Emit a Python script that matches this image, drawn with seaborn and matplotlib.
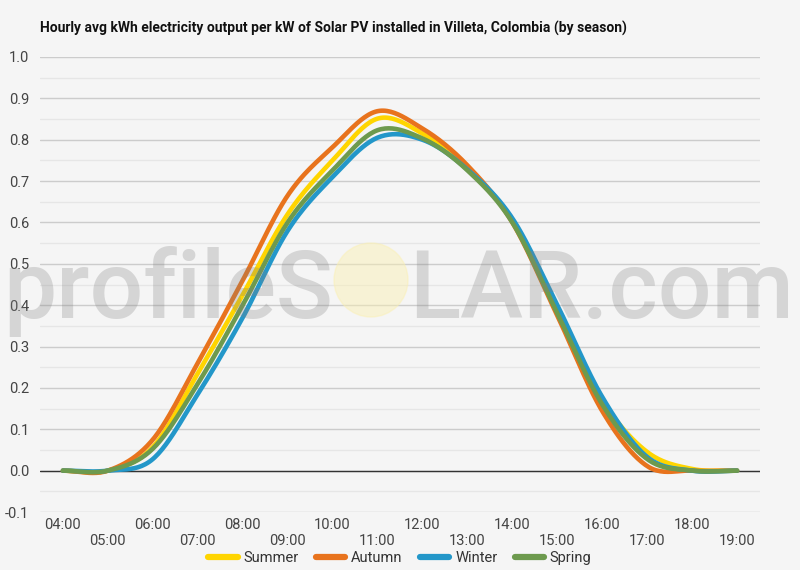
import numpy as np
import pandas as pd
import matplotlib
matplotlib.use('Agg')
import matplotlib.pyplot as plt
from matplotlib.patches import Ellipse
import seaborn as sns

hours = [4, 5, 6, 7, 8, 9, 10, 11, 12, 13, 14, 15, 16, 17, 18, 19]
summer = [0, 0, 0.057, 0.235, 0.425, 0.62, 0.75, 0.851, 0.815, 0.73, 0.605, 0.385, 0.17, 0.045, 0.004, 0]
autumn = [0, 0, 0.075, 0.26, 0.46, 0.665, 0.782, 0.869, 0.827, 0.738, 0.60, 0.375, 0.144, 0.011, 0, 0]
winter = [0, 0, 0.028, 0.185, 0.37, 0.58, 0.71, 0.805, 0.80, 0.728, 0.61, 0.40, 0.178, 0.033, 0, 0]
spring = [0, 0, 0.053, 0.21, 0.40, 0.60, 0.726, 0.823, 0.803, 0.726, 0.60, 0.38, 0.16, 0.028, 0, 0]
seasons = ['Summer', 'Autumn', 'Winter', 'Spring']
colors = ['#FFD500', '#E8731D', '#2397C9', '#6D9A4E']


def smooth(x, y, n=24):
    # catmull-rom style curve through the hourly points (like the original's curved lines)
    x = np.asarray(x, float)
    y = np.asarray(y, float)
    m = np.zeros_like(y)
    m[1:-1] = (y[2:] - y[:-2]) / 2
    m[0] = y[1] - y[0]
    m[-1] = y[-1] - y[-2]
    xs, ys = [], []
    for i in range(len(x) - 1):
        t = np.linspace(0, 1, n, endpoint=False)
        h00 = 2 * t**3 - 3 * t**2 + 1
        h10 = t**3 - 2 * t**2 + t
        h01 = -2 * t**3 + 3 * t**2
        h11 = t**3 - t**2
        xs.append(x[i] + t * (x[i + 1] - x[i]))
        ys.append(h00 * y[i] + h10 * m[i] + h01 * y[i + 1] + h11 * m[i + 1])
    xs.append([x[-1]])
    ys.append([y[-1]])
    return np.concatenate(xs), np.concatenate(ys)


frames = []
for name, vals in zip(seasons, [summer, autumn, winter, spring]):
    sx, sy = smooth(hours, vals)
    frames.append(pd.DataFrame({'hour': sx, 'kwh': sy, 'season': name}))
df = pd.concat(frames, ignore_index=True)

sns.set_style('white')
plt.rcParams['font.family'] = ['Roboto', 'DejaVu Sans']

fig = plt.figure(figsize=(8, 5.7), dpi=100, facecolor='#f5f5f5')
ax = fig.add_axes([0.05, 1 - 512 / 570, 0.9, (512 - 57) / 570])
ax.set_facecolor('#f5f5f5')

sns.lineplot(data=df, x='hour', y='kwh', hue='season', palette=colors,
             linewidth=3.3, ax=ax, legend=False, sort=False, zorder=3)

ax.set_xlim(3.49, 19.51)
ax.set_ylim(-0.1, 1.0)
yt = np.round(np.arange(-0.1, 1.01, 0.1), 2)
ax.set_yticks(yt)
ax.set_yticks(np.round(np.arange(-0.05, 1.0, 0.1), 2), minor=True)
ax.set_yticklabels([f'{v:.1f}' for v in yt])
ax.grid(axis='y', which='major', color='#cccccc', linewidth=1)
ax.grid(axis='y', which='minor', color='#e6e6e6', linewidth=1)
ax.axhline(0, color='#333333', linewidth=1, zorder=2)

ax.set_xticks([h for h in hours if h % 2 == 0])
ax.set_xticklabels([f'{h:02d}:00' for h in hours if h % 2 == 0])
ax.set_xticks([h for h in hours if h % 2 == 1], minor=True)
ax.set_xticklabels([f'{h:02d}:00' for h in hours if h % 2 == 1], minor=True)
ax.tick_params(axis='x', which='major', length=0, pad=4, labelsize=10.5, labelcolor='#444444')
ax.tick_params(axis='x', which='minor', length=0, pad=16, labelsize=10.5, labelcolor='#444444')
ax.tick_params(axis='y', which='both', length=0, pad=8, labelsize=10.5, labelcolor='#444444')
ax.set_xlabel('')
ax.set_ylabel('')
for s in ax.spines.values():
    s.set_visible(False)

fig.text(40 / 800, 1 - 28 / 570,
         'Hourly avg kWh electricity output per kW of Solar PV installed in Villeta, Colombia (by season)',
         fontsize=10, fontweight='bold', color='#111111', va='center', ha='left')

# watermark
fig.add_artist(Ellipse((371 / 800, 1 - 280 / 570), 74 / 800, 74 / 570,
                       transform=fig.transFigure, color='#fbf0b0', alpha=0.45, zorder=5))
fig.text(333 / 800, 1 - 318 / 570, 'profileS', fontsize=68, fontweight=500, color='#808080',
         alpha=0.27, ha='right', va='baseline', zorder=6)
fig.text(409 / 800, 1 - 318 / 570, 'LAR.com', fontsize=68, fontweight=500, color='#808080',
         alpha=0.27, ha='left', va='baseline', zorder=6)

handles = [plt.Line2D([], [], color=c, linewidth=4.5) for c in colors]
fig.legend(handles, seasons, loc='center', bbox_to_anchor=(0.5, 1 - 558 / 570), ncol=4,
           frameon=False, fontsize=10.5, handlelength=2.0, columnspacing=1.2, handletextpad=0.4,
           labelcolor='#333333')

fig.savefig('out.png', dpi=100, facecolor='#f5f5f5')
